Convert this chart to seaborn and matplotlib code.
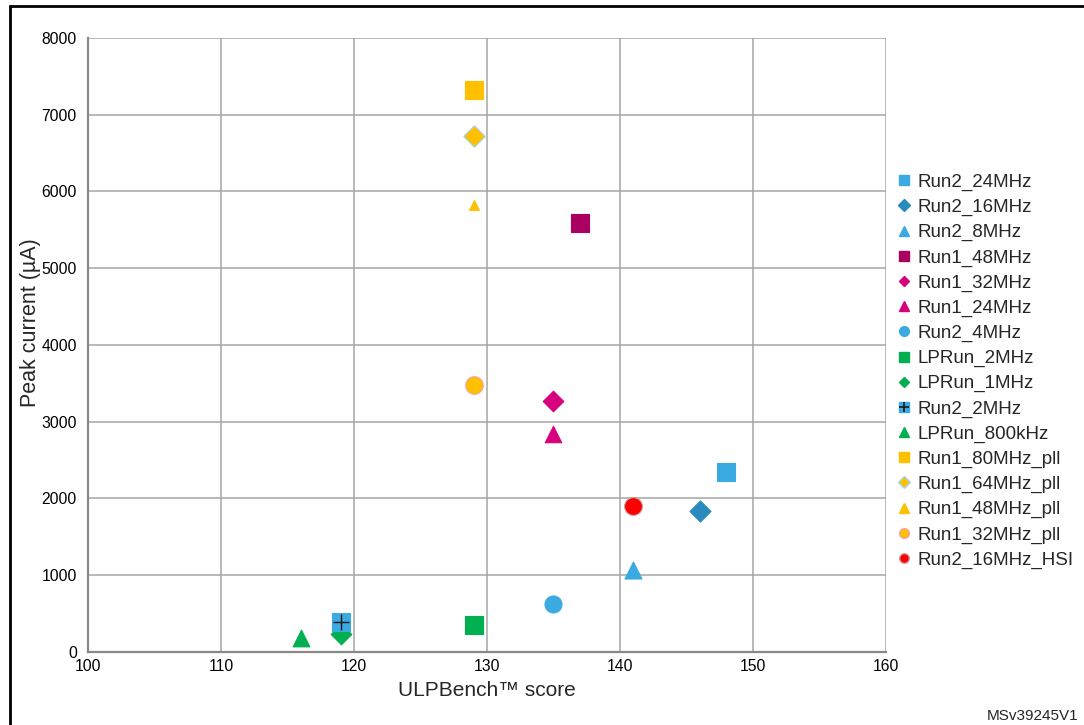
import seaborn as sns
import pandas as pd
import matplotlib.pyplot as plt
from matplotlib.lines import Line2D
from matplotlib.patches import Rectangle
from matplotlib.legend_handler import HandlerTuple

# values
names = ["Run2_24MHz", "Run2_16MHz", "Run2_8MHz", "Run1_48MHz", "Run1_32MHz",
         "Run1_24MHz", "Run2_4MHz", "LPRun_2MHz", "LPRun_1MHz", "Run2_2MHz",
         "LPRun_800kHz", "Run1_80MHz_pll", "Run1_64MHz_pll", "Run1_48MHz_pll",
         "Run1_32MHz_pll", "Run2_16MHz_HSI"]
scores = [148, 146, 141, 137, 135, 135, 135, 129, 119, 119, 116, 129, 129, 129, 129, 141]
peak_ua = [2350, 1840, 1070, 5590, 3270, 2840, 625, 355, 235, 390, 185,
           7320, 6720, 5820, 3480, 1900]

# styling per series
LB, DB, MG, PK, GR, OR, RD = "#3BAAE0", "#298BBD", "#AA005F", "#D6007F", "#00B050", "#FFC000", "#FF0000"
colors = [LB, DB, LB, MG, PK, PK, LB, GR, GR, LB, GR, OR, OR, OR, OR, RD]
edges = [LB, DB, LB, MG, PK, PK, LB, GR, GR, LB, GR, OR, "#A9D3EE", OR, "#F2A3A0", "#C8A0A0"]
marks = ["s", "D", "^", "s", "D", "^", "o", "s", "D", "s", "^", "s", "D", "^", "o", "o"]
sizes = [165, 115, 150, 165, 110, 140, 150, 160, 110, 165, 145, 165, 120, 50, 160, 165]
leg_ms = [6.5, 6, 6.5, 6.5, 5.5, 6.5, 7, 6.5, 5.5, 6.5, 6.5, 6.5, 6, 6.5, 7, 7]

df = pd.DataFrame({"name": names, "score": scores, "peak": peak_ua})

sns.set_style("white")
plt.rcParams["font.family"] = ["Liberation Sans", "DejaVu Sans"]

fig = plt.figure(figsize=(10.84, 7.25), dpi=100)
ax = fig.add_axes([0.0812, 0.1007, 0.7361, 0.8469])

for i, row in df.iterrows():
    sns.scatterplot(x=[row["score"]], y=[row["peak"]], marker=marks[i], color=colors[i],
                    edgecolor=edges[i], linewidth=0.8, s=sizes[i], ax=ax, zorder=3,
                    clip_on=False)
    if row["name"] == "Run2_2MHz":
        ax.scatter([row["score"]], [row["peak"]], marker="+", color="#1a1a1a",
                   s=140, linewidth=1.0, zorder=4)

ax.set_xlim(100, 160)
ax.set_ylim(0, 8000)
ax.set_xticks(range(100, 161, 10))
ax.set_yticks(range(0, 8001, 1000))
ax.grid(True, color="#a6a6a6", linewidth=1.1)
ax.set_axisbelow(True)
for side in ["top", "right"]:
    ax.spines[side].set_visible(False)
for side in ["left", "bottom"]:
    ax.spines[side].set_color("#888888")
    ax.spines[side].set_linewidth(1.6)
ax.tick_params(axis="both", length=3, width=1, color="#aaaaaa", labelsize=11.3,
               labelcolor="black")
ax.tick_params(axis="y", pad=5)
ax.tick_params(axis="x", pad=2)
ax.set_xlabel("ULPBench™ score", fontsize=15)
ax.set_ylabel("Peak current (µA)", fontsize=15.5)
ax.xaxis.set_label_coords(0.5, -0.0635)
ax.yaxis.set_label_coords(-0.0727, 0.537)
ax.xaxis.label.set_va("center")
ax.yaxis.label.set_va("center")

handles = []
for i, n in enumerate(names):
    h = Line2D([], [], linestyle="none", marker=marks[i], color=colors[i],
               markeredgecolor=edges[i], markersize=leg_ms[i])
    if n == "Run2_2MHz":
        plus = Line2D([], [], linestyle="none", marker="+", color="#1a1a1a",
                      markersize=6.5, markeredgewidth=1.2)
        h = (h, plus)
    handles.append(h)

fig.legend(handles, names, loc="center left", bbox_to_anchor=(0.827, 0.488),
           frameon=False, fontsize=13.5, handlelength=0.8, handletextpad=0.3,
           labelspacing=0.42, borderpad=0, borderaxespad=0,
           handler_map={tuple: HandlerTuple(ndivide=1, pad=0)})

fig.text(1078 / 1084, 1 - 716 / 725, "MSv39245V1", ha="right", va="center", fontsize=11)

fig.add_artist(Rectangle((10 / 1084, -0.1), 1.2, 1 - 6 / 725 + 0.1, transform=fig.transFigure,
                         fill=False, edgecolor="black", linewidth=2, clip_on=False))

fig.savefig("out.png", dpi=100)
